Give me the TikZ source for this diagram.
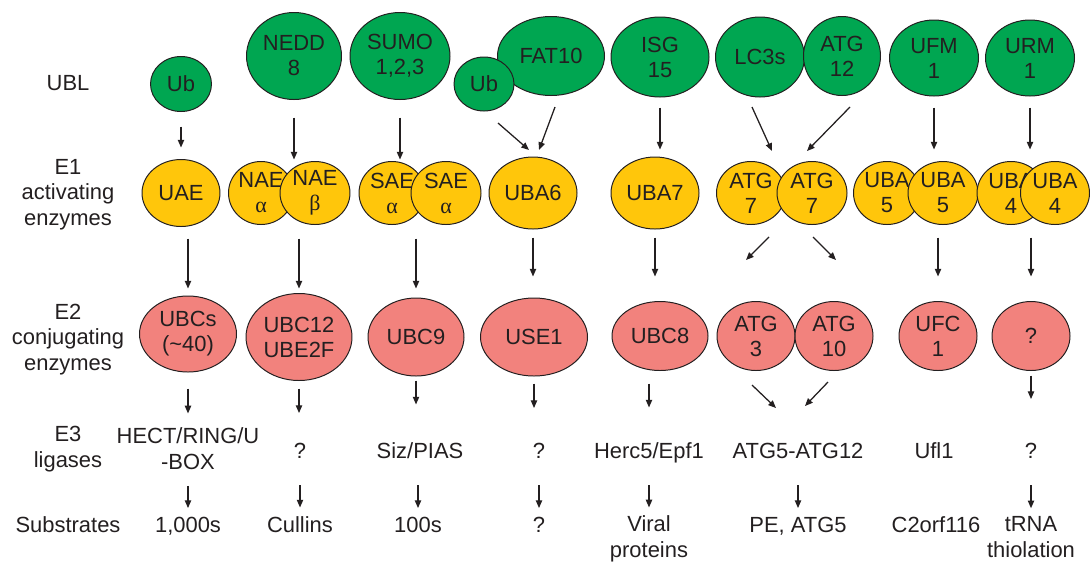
\documentclass[tikz,border=0pt]{standalone}
\usepackage{fontspec}
\setmainfont{Liberation Sans}
\newfontfamily\grk{Liberation Serif}
\usetikzlibrary{shapes.geometric,arrows.meta}
\newlength\pxu
\setlength\pxu{0.025cm}
\definecolor{ink}{RGB}{35,31,32}
\definecolor{ublgreen}{RGB}{0,166,81}
\definecolor{eoneyellow}{RGB}{255,198,11}
\definecolor{etwopink}{RGB}{242,130,125}
\newcommand{\txtfont}{\fontsize{15.6pt}{17.8pt}\selectfont}
\tikzset{
	blob/.style 2 args = {ellipse, draw=ink, line width=0.7pt, inner sep=0pt,
		minimum width=#1\pxu, minimum height=#2\pxu},
	ubl_n/.style 2 args = {blob={#1}{#2}, fill=ublgreen},% UBL, vert
	e1_n/.style 2 args = {blob={#1}{#2}, fill=eoneyellow},% E1, jaune
	e2_n/.style 2 args = {blob={#1}{#2}, fill=etwopink},% E2, rose
	intxt/.style = {align=center, inner sep=0pt, text=ink, font=\txtfont},
	lbl/.style = {intxt, anchor=base},% base = last line
	gap/.style 2 args = {shorten <=#1\pxu, shorten >=#2\pxu}
}

\begin{document}
\begin{tikzpicture}[x=\pxu, y=-\pxu, ->, >={Triangle[length=5.5pt,width=4.5pt]},
	line width=0.9pt, color=ink]
	\useasboundingbox (0,0) rectangle (1090,562);
	% row heads
	\node[lbl] (ublhead) at (68,90) {UBL};
	\node[lbl] (e1head) at (68,225) {E1\\activating\\enzymes};
	\node[lbl] (e2head) at (68,370) {E2\\conjugating\\enzymes};
	\node[lbl] (e3head) at (68,467) {E3\\ligases};
	\node[lbl] (subhead) at (68,532) {Substrates};
	% UBL
	\node[ubl_n={61}{55}, label={[intxt]center:Ub}] (ub) at (181,84) {};
	\node[ubl_n={95}{87}, label={[intxt]center:NEDD\\8}] (nedd) at (294,56) {};
	\node[ubl_n={100}{87}, label={[intxt]center:SUMO\\1,2,3}] (sumo) at (400,56) {};
	\node[ubl_n={107}{79}, label={[intxt]center:FAT10}] (fat10) at (551,56) {};
	\node[ubl_n={60}{54}, label={[intxt]center:Ub}] (ubs) at (484,84) {};
	\node[ubl_n={98}{80}, label={[intxt]center:ISG\\15}] (isg) at (660,57) {};
	\node[ubl_n={89}{80}, label={[intxt]center:LC3s}] (lc3) at (760,57) {};
	\node[ubl_n={77}{79}, label={[intxt]center:ATG\\12}] (atg12) at (842,56) {};
	\node[ubl_n={89}{76}, label={[intxt]center:UFM\\1}] (ufm) at (934,58) {};
	\node[ubl_n={89}{76}, label={[intxt]center:URM\\1}] (urm) at (1030,58) {};
	% E1
	\node[e1_n={78}{67}, label={[intxt]center:UAE}] (uae) at (181,193) {};
	\node[e1_n={65}{63}, label={[intxt]center:NAE\\{\grk α}}] (naea) at (261,193) {};
	\node[e1_n={70}{63}, label={[intxt]center:NAE\\{\grk β}}] (naeb) at (315,193) {};
	\node[e1_n={66}{63}, label={[intxt]center:SAE\\{\grk α}}] (saea) at (392,193) {};
	\node[e1_n={70}{63}, label={[intxt]center:SAE\\{\grk α}}] (saeb) at (446,193) {};
	\node[e1_n={88}{72}, label={[intxt]center:UBA6}] (uba6) at (533,193) {};
	\node[e1_n={88}{72}, label={[intxt]center:UBA7}] (uba7) at (655,193) {};
	\node[e1_n={69}{63}, label={[intxt]center:ATG\\7}] (atg7a) at (751,193) {};
	\node[e1_n={70}{63}, label={[intxt]center:ATG\\7}] (atg7b) at (812,193) {};
	\node[e1_n={67}{63}, label={[intxt]center:UBA\\5}] (uba5a) at (887,193) {};
	\node[e1_n={70}{63}, label={[intxt]center:UBA\\5}] (uba5b) at (943,193) {};
	\node[e1_n={68}{63}, label={[intxt]center:UBA\\4}] (uba4a) at (1011,193) {};
	\node[e1_n={69}{63}, label={[intxt]center:UBA\\4}] (uba4b) at (1055,193) {};
	% E2
	\node[e2_n={97}{76}, label={[intxt]center:UBCs\\(\textasciitilde40)}] (ubcs) at (188,334) {};
	\node[e2_n={106}{87}, label={[intxt]center:UBC12\\UBE2F}] (ubc12) at (299,337) {};
	\node[e2_n={96}{78}, label={[intxt]center:UBC9}] (ubc9) at (416,337) {};
	\node[e2_n={107}{78}, label={[intxt]center:USE1}] (use1) at (534,337) {};
	\node[e2_n={96}{69}, label={[intxt]center:UBC8}] (ubc8) at (660,336) {};
	\node[e2_n={78}{69}, label={[intxt]center:ATG\\3}] (atg3) at (756,336) {};
	\node[e2_n={78}{69}, label={[intxt]center:ATG\\10}] (atg10) at (834,336) {};
	\node[e2_n={78}{69}, label={[intxt]center:UFC\\1}] (ufc) at (938,336) {};
	\node[e2_n={78}{69}, label={[intxt]center:?}] (qe2) at (1031,336) {};
	% E3
	\node[lbl] (hect) at (188,469) {HECT/RING/U\\-BOX};
	\node[lbl] (qnedd) at (300,458) {?};
	\node[lbl] (siz) at (420,458) {Siz/PIAS};
	\node[lbl] (qfat) at (539,458) {?};
	\node[lbl] (herc) at (649,458) {Herc5/Epf1};
	\node[lbl] (atg512) at (798,458) {ATG5-ATG12};
	\node[lbl] (ufl) at (934,458) {Ufl1};
	\node[lbl] (qurm) at (1031,458) {?};
	% substrates
	\node[lbl] (sub1000) at (188,532) {1,000s};
	\node[lbl] (cullins) at (300,532) {Cullins};
	\node[lbl] (sub100) at (418,532) {100s};
	\node[lbl] (qsub) at (539,532) {?};
	\node[lbl] (viral) at (649,557) {Viral\\proteins};
	\node[lbl] (pe) at (798,532) {PE, ATG5};
	\node[lbl] (c2orf) at (936,532) {C2orf116};
	\node[lbl] (trna) at (1031,557) {tRNA\\thiolation};
	% UBL -> E1
	\draw[gap={14.5}{11.5}] (ub.south) -- (ub.south |- uae.north);
	\draw[gap={17.5}{1.5}] (nedd.south) -- (nedd.south |- naeb.north);
	\draw[gap={17.5}{1.5}] (sumo.south) -- (sumo.south |- saea.north);
	\draw ([shift={(14,39)}]ubs.center) -- ([shift={(-4,-43)}]uba6.center);
	\draw ([shift={(4,51)}]fat10.center) -- ([shift={(6,-43)}]uba6.center);
	\draw[gap={10}{7}] (isg.south) -- (isg.south |- uba7.north);
	\draw ([shift={(-8,50)}]lc3.center) -- ([shift={(21,-42)}]atg7a.center);
	\draw ([shift={(8,51)}]atg12.center) -- ([shift={(-5,-42)}]atg7b.center);
	\draw[gap={11}{11.5}] (ufm.south) -- (ufm.south |- uba5b.north);
	\draw[gap={11}{11.5}] (urm.south) -- (urm.south |- uba4b.north);
	% E1 -> E2
	\draw[gap={11.5}{7}] (uae.south -| ubcs.north) -- (ubcs.north);
	\draw[gap={13.5}{4.5}] (naea.south -| ubc12.north) -- (ubc12.north);
	\draw[gap={13.5}{9}] (saea.south -| ubc9.north) -- (ubc9.north);
	\draw[gap={8}{21}] (uba6.south) -- (uba6.south |- use1.north);
	\draw[gap={8}{24.5}] (uba7.south) -- (uba7.south |- ubc8.north);
	\draw ([shift={(18,44)}]atg7a.center) -- ([shift={(-10,-76)}]atg3.center);
	\draw ([shift={(1,44)}]atg7b.center) -- ([shift={(2,-76)}]atg10.center);
	\draw[gap={12.5}{24.5}] (uba5a.south -| ufc.north) -- (ufc.north);
	\draw[gap={12.5}{24.5}] (uba4a.south -| qe2.north) -- (qe2.north);
	% E2 -> E3
	\draw[gap={16}{14}] (ubcs.south) -- (ubcs.south |- hect.north);
	\draw[gap={7.5}{29}] (ubc12.south) -- (ubc12.south |- qnedd.north);
	\draw[gap={4}{37}] (ubc9.south) -- (ubc9.south |- siz.north);
	\draw[gap={7}{34}] (use1.south) -- (use1.south |- qfat.north);
	\draw[gap={12.5}{34}] (ubc8.south -| herc.north) -- (herc.north);
	\draw ([shift={(-4,49)}]atg3.center) -- ([shift={(-22,-50)}]atg512.base);
	\draw ([shift={(-6,46)}]atg10.center) -- ([shift={(7,-52)}]atg512.base);
	\draw[gap={4.5}{43}] (qe2.south) -- (qe2.south |- qurm.north);
	% E3 -> substrates
	\draw[gap={16}{8}] (hect.south) -- (hect.south |- sub1000.north);
	\draw[gap={27}{8}] (qnedd.base) -- (qnedd.base |- cullins.north);
	\draw[gap={27}{8}] (siz.base -| sub100.north) -- (sub100.north);
	\draw[gap={27}{8}] (qfat.base) -- (qfat.base |- qsub.north);
	\draw[gap={27}{8}] (herc.base) -- (herc.base |- viral.north);
	\draw[gap={27}{8}] (atg512.base) -- (atg512.base |- pe.north);
	\draw[gap={27}{8}] (qurm.base) -- (qurm.base |- trna.north);
\end{tikzpicture}
\end{document}
